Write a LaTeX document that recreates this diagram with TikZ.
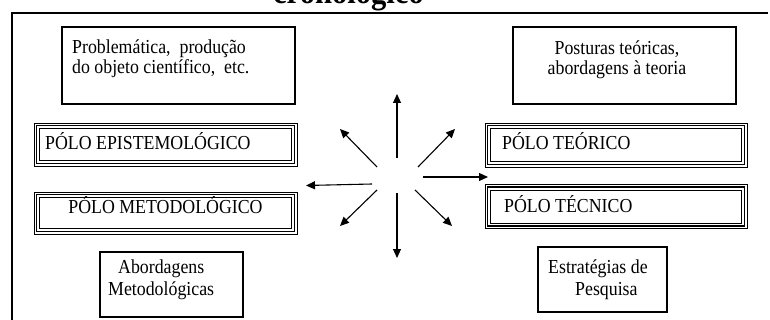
\documentclass[tikz,border=0pt]{standalone}
\usepackage{fontspec}
\setmainfont[FakeStretch=0.9]{Liberation Serif}
\usetikzlibrary{arrows.meta,calc}
\newcommand\triframe[1]{%
  \draw[line width=1.3pt] ([xshift=3pt,yshift=-3pt]#1.north west) rectangle ([xshift=-3pt,yshift=3pt]#1.south east);
  \draw[line width=0.8pt] ([xshift=6pt,yshift=-6pt]#1.north west) rectangle ([xshift=-6pt,yshift=6pt]#1.south east);}
\begin{document}
\begin{tikzpicture}[x=1pt,y=-1pt,
  txt/.style={font=\fontsize{19.8}{22}\selectfont, inner sep=0pt},
  plainbox/.style={draw, line width=1.3pt, inner sep=0pt},
  polebox/.style={draw, line width=0.9pt, inner sep=0pt},
  arr/.style={line width=1.1pt, -{Triangle[length=9pt,width=8pt]}}]
\useasboundingbox (0,0) rectangle (770,320);
\clip (0,0) rectangle (770,320);
% title (cut off at top)
\node[font=\fontsize{34}{38}\selectfont\bfseries, anchor=base, inner sep=0pt] (title) at (348.5,4) {cronológico};
% outer frame
\draw[line width=1.2pt] (12,340) -- (12,13) -- (768,13);
% plain boxes
\node[plainbox, minimum width=233pt, minimum height=77pt] (b1) at (178.5,65.5) {};
\node[txt, anchor=base west] (t1a) at (72,54) {Problemática,\ \ produção};
\node[txt, anchor=base west] (t1b) at (72,73.5) {do objeto científico,\ \ etc.};
\node[plainbox, minimum width=223pt, minimum height=77pt] (b2) at (624.5,65.5) {};
\node[txt, anchor=base] (t2a) at (617,55) {Posturas teóricas,};
\node[txt, anchor=base] (t2b) at (617,75) {abordagens à teoria};
\node[plainbox, minimum width=143pt, minimum height=65pt] (b3) at (171.5,284.5) {};
\node[txt, anchor=base west] (t3a) at (118,273) {Abordagens};
\node[txt, anchor=base west] (t3b) at (108,295) {Metodológicas};
\node[plainbox, minimum width=129pt, minimum height=65pt] (b4) at (602.5,279.5) {};
\node[txt, anchor=base west] (t4a) at (548,273) {Estratégias de};
\node[txt, anchor=base west] (t4b) at (575,295) {Pesquisa};
% pole boxes
\node[polebox, minimum width=263pt, minimum height=43pt] (pe) at (165.5,144.5) {};
\triframe{pe}
\node[txt, anchor=base west] (tpe) at (45,149.5) {PÓLO EPISTEMOLÓGICO};
\node[polebox, minimum width=263pt, minimum height=42pt] (pm) at (165.5,213) {};
\triframe{pm}
\node[txt, anchor=base] (tpm) at (165.5,213.5) {PÓLO METODOLÓGICO};
\node[polebox, minimum width=262pt, minimum height=44pt] (pt) at (616,145) {};
\triframe{pt}
\node[txt, anchor=base west] (tpt) at (502,150) {PÓLO TEÓRICO};
\node[polebox, minimum width=262pt, minimum height=44pt] (pc) at (616,206.5) {};
\triframe{pc}
\node[txt, anchor=base west] (tpc) at (504,213) {PÓLO TÉCNICO};
% arrows
\coordinate (us) at (397,158); \coordinate (ue) at (397,94);
\coordinate (uls) at (377,167); \coordinate (ule) at (340,129);
\coordinate (urs) at (418,167); \coordinate (ure) at (455,129);
\coordinate (ls) at (372,184); \coordinate (le) at (306,185.5);
\coordinate (rs) at (423,177); \coordinate (re) at (488,177);
\coordinate (dls) at (377,190); \coordinate (dle) at (340,226);
\coordinate (drs) at (415,190); \coordinate (dre) at (452,226);
\coordinate (ds) at (397,193); \coordinate (de) at (397,258);
\draw[arr] (us) -- (ue);
\draw[arr] (uls) -- (ule);
\draw[arr] (urs) -- (ure);
\draw[arr] (ls) -- (le);
\draw[arr] (rs) -- (re);
\draw[arr] (dls) -- (dle);
\draw[arr] (drs) -- (dre);
\draw[arr] (ds) -- (de);
\end{tikzpicture}
\end{document}
